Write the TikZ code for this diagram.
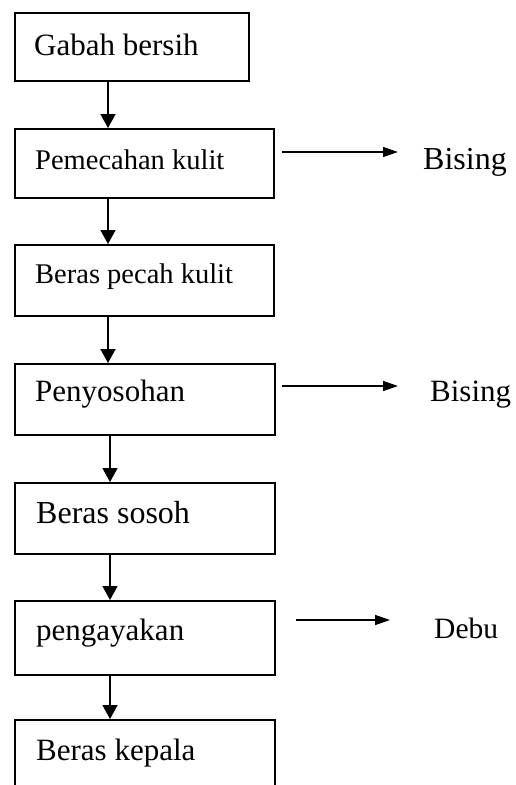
\documentclass[tikz,border=0pt]{standalone}
\usepackage{fontspec}
\setmainfont{Liberation Serif}
\usetikzlibrary{arrows.meta}
\tikzset{
  box/.style={draw, line width=1.6pt, anchor=north west, inner sep=0pt},
  lbl/.style={anchor=base west, inner sep=0pt},
  down/.style={line width=1.6pt, -{Triangle[length=14pt,width=15pt]}},
  side/.style={line width=1.4pt, -{Triangle[length=15pt,width=10pt]}},
}
\begin{document}
\begin{tikzpicture}[x=1pt,y=-1pt]
\useasboundingbox (0,0) rectangle (516,785);
\clip (0,0) rectangle (516,785);
\fill[white] (0,0) rectangle (516,785);

% process boxes
\node[box, minimum width=234pt, minimum height=68pt] (b1) at (14,12) {};
\node[box, minimum width=259pt, minimum height=69pt] (b2) at (14,128) {};
\node[box, minimum width=259pt, minimum height=71pt] (b3) at (14,244) {};
\node[box, minimum width=260pt, minimum height=71pt] (b4) at (14,363) {};
\node[box, minimum width=260pt, minimum height=71pt] (b5) at (14,482) {};
\node[box, minimum width=260pt, minimum height=74pt] (b6) at (14,600) {};
\node[box, minimum width=260pt, minimum height=90pt] (b7) at (14,719) {};

% box texts
\node[lbl, font=\fontsize{31}{36}\selectfont] (t1) at (34,55) {Gabah bersih};
\node[lbl, font=\fontsize{28.5}{33}\selectfont] (t2) at (35,169) {Pemecahan kulit};
\node[lbl, font=\fontsize{28.5}{33}\selectfont] (t3) at (35,283) {Beras pecah kulit};
\node[lbl, font=\fontsize{31}{36}\selectfont] (t4) at (35,401) {Penyosohan};
\node[lbl, font=\fontsize{32}{37}\selectfont] (t5) at (36,523) {Beras sosoh};
\node[lbl, font=\fontsize{31}{36}\selectfont] (t6) at (36,640) {pengayakan};
\node[lbl, font=\fontsize{31}{36}\selectfont] (t7) at (36,760) {Beras kepala};

% by-products
\node[lbl, font=\fontsize{32}{37}\selectfont] (o1) at (423,169) {Bising};
\node[lbl, font=\fontsize{31}{36}\selectfont] (o2) at (430,401) {Bising};
\node[lbl, font=\fontsize{29.5}{34}\selectfont] (o3) at (434,638) {Debu};

% arrow ends towards the by-products
\coordinate (e1) at (398,152);
\coordinate (e2) at (398,386);
\coordinate (e3) at (390,620);

% main flow
\draw[down] (108,0 |- b1.south) -- (108,0 |- b2.north);
\draw[down] (108,0 |- b2.south) -- (108,0 |- b3.north);
\draw[down] (108,0 |- b3.south) -- (108,0 |- b4.north);
\draw[down] (110,0 |- b4.south) -- (110,0 |- b5.north);
\draw[down] (110,0 |- b5.south) -- (110,0 |- b6.north);
\draw[down] (110,0 |- b6.south) -- (110,0 |- b7.north);

% side outputs
\draw[side] (282,0 |- e1) -- (e1);
\draw[side] (282,0 |- e2) -- (e2);
\draw[side] (296,0 |- e3) -- (e3);
\end{tikzpicture}
\end{document}
